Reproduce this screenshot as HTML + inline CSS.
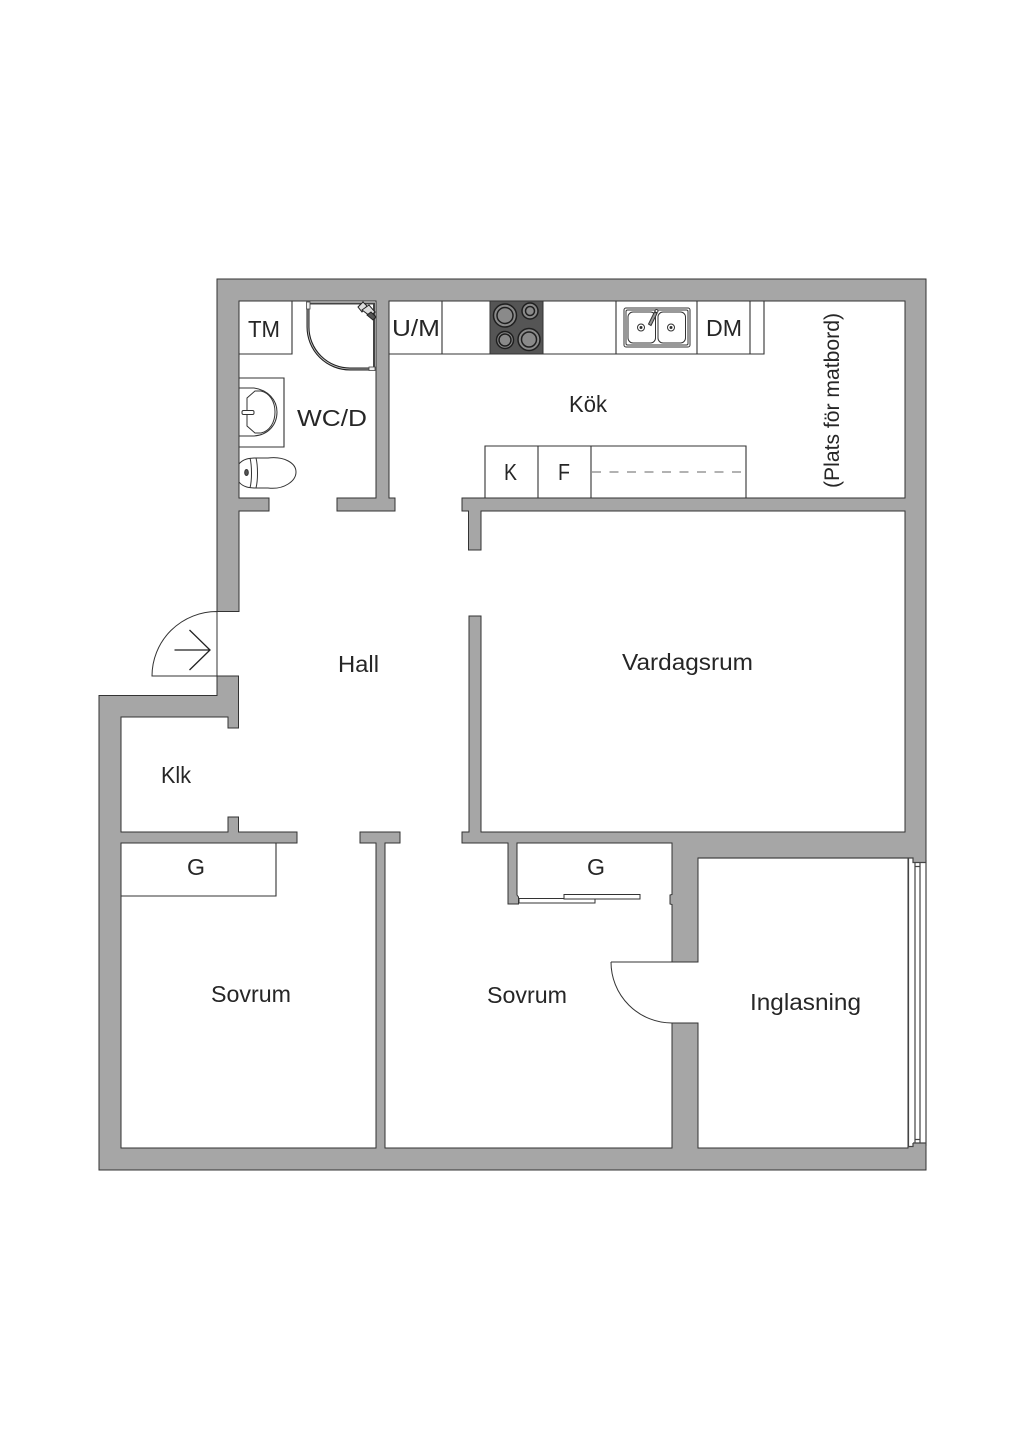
<!DOCTYPE html>
<html><head><meta charset="utf-8"><style>
html,body{margin:0;padding:0;background:#fff}
svg{display:block}
text{font-family:"Liberation Sans",sans-serif;font-size:23px;fill:#262626;stroke:none}
</style></head><body>
<svg width="1024" height="1448" viewBox="0 0 1024 1448" xmlns="http://www.w3.org/2000/svg">
<rect width="1024" height="1448" fill="#fff"/>
<path d="M217 611.500V279H926V1170H99V695.500H217V676H238.500V728H228V717H121V832H228V817H238.500V832H297V843H121V1148H376V843H360V832H400V843H385V1148H672V1023H698V1148H908V858H698V962H672V904.500L670 904V895L672 894.500V843H517V895L518.500 897V904H508V843H462V832H469V616H481V832H905V511H481V550H468.500V511H462V498H905V301H389V498H395V511H337V498H376V301H239V498H269V511H239V611.500Z" fill="#a6a6a6" stroke="#333" stroke-width="1"/>
<!-- window -->
<path d="M908.500 858.500H913V862.500H925.500V1143H913V1146H908.500Z" fill="#fff"/>
<g fill="none" stroke="#444" stroke-width="1.200">
<path d="M698 858H913V862.500H926M908.500 858V1147M915 863V1143M920 863V1143M915 866.500H920M915 1139.500H920M913 1143H926M908 1146.500H913V1143M926 860V1146"/>
</g>
<!-- entry door -->
<g fill="none" stroke="#333" stroke-width="1">
<path d="M217 611.500V676H152A65 64.500 0 0 1 217 611.500Z" fill="#fff"/>
<path d="M611 962H698M611 962A61 61 0 0 0 672 1023" />
</g>
<g fill="none" stroke="#222" stroke-width="1.300"><path d="M174.500 650H210M189.500 630L210 650L189.500 670"/></g>
<!-- sliding door -->
<g fill="#fff" stroke="#333" stroke-width="1">
<rect x="519" y="898.500" width="76" height="4.500"/>
<rect x="564" y="894.500" width="76" height="4.500"/>
</g>
<!-- closet left -->
<path d="M276 843V896H121" fill="none" stroke="#333" stroke-width="1.100"/>
<!-- bath TM -->
<g fill="none" stroke="#333" stroke-width="1.100">
<path d="M239 354H292V301"/>
<path d="M239 378H284V447H239"/>
</g>
<!-- basin -->
<g fill="none" stroke="#333" stroke-width="1">
<path d="M239 388H254C268 390 277 400 277 412C277 425 268 435 254 436H239"/>
<path d="M247 398L255 391H261C270 393 275 402 275 412C275 422 270 431 261 433H255L247 426Z"/>
<rect x="242" y="410.500" width="12" height="4" rx="1.500" fill="#fff"/>
</g>
<!-- toilet -->
<g fill="#fff" stroke="#333" stroke-width="1">
<path d="M254 458H268C284 456 296 463 296 472C296 481 284 490 268 488H254Z"/>
<path d="M239 464C243 459 249 458 256 458C258 466 258 480 256 488C249 488 243 487 239 482Z"/>
<path d="M250 458C252 466 252 480 250 488" fill="none"/>
<ellipse cx="246.500" cy="472.500" rx="1.800" ry="3" fill="#555"/>
</g>
<!-- shower -->
<g fill="none">
<path d="M308 303.500H374V368H372" stroke="#444" stroke-width="2"/>
<path d="M308 306V327A42 42 0 0 0 350 369H371" stroke="#222" stroke-width="3"/>
<path d="M308 306V327A42 42 0 0 0 350 369H371" stroke="#ccc" stroke-width="0.800"/>
<rect x="306.500" y="302" width="3.500" height="7" fill="#eee" stroke="#444" stroke-width="0.800"/>
<rect x="369" y="367" width="6" height="3.500" fill="#eee" stroke="#444" stroke-width="0.800"/>
<g stroke="#222" stroke-width="1" fill="#ddd">
<path d="M358 307L363 302L367 306L362 312Z"/>
<path d="M362 310L369 305L375 312L370 316Z"/>
<path d="M367 315L371 312L376 317L373 320Z" fill="#555"/>
</g>
</g>
<!-- kitchen counter -->
<g fill="none" stroke="#333" stroke-width="1.100">
<path d="M389 354H764V301M442 301V354M616 301V354M697 301V354M750 301V354"/>
<path d="M485 498V446H746V498M538 446V498M591 446V498"/>
<path d="M592 472H742" stroke="#666" stroke-dasharray="9 8.500" stroke-width="1"/>
</g>
<!-- hob -->
<rect x="490" y="301" width="53" height="53" fill="#555" stroke="#333"/>
<g stroke="#1f1f1f" stroke-width="1.500" fill="#8a8a8a">
<circle cx="505" cy="315.500" r="11.500"/><circle cx="505" cy="315.500" r="8"/>
<circle cx="530" cy="311" r="8"/><circle cx="530" cy="311" r="4.500"/>
<circle cx="505" cy="340" r="8.500"/><circle cx="505" cy="340" r="6"/>
<circle cx="529" cy="339.500" r="11"/><circle cx="529" cy="339.500" r="7.500"/>
</g>
<!-- sink -->
<g fill="#fff" stroke="#333" stroke-width="1">
<rect x="624" y="308" width="66" height="39" rx="2"/>
<rect x="626" y="310" width="62" height="35" rx="1.500"/>
<rect x="628" y="312" width="27.500" height="31" rx="5"/>
<rect x="658" y="312" width="27.500" height="31" rx="5"/>
<circle cx="641" cy="327.500" r="3.500"/><circle cx="671" cy="327.500" r="3.500"/>
<circle cx="641" cy="327.500" r="1" fill="#222"/><circle cx="671" cy="327.500" r="1" fill="#222"/>
<path d="M654.500 312L657 313.500L651 325.500L648.500 324Z" fill="#999"/>
<circle cx="656.500" cy="311" r="1.500"/>
</g>
<!-- labels -->
<text x="338" y="672" textLength="41" lengthAdjust="spacingAndGlyphs">Hall</text>
<text x="569" y="412" textLength="38" lengthAdjust="spacingAndGlyphs">Kök</text>
<text x="622" y="670" textLength="131" lengthAdjust="spacingAndGlyphs">Vardagsrum</text>
<text x="161" y="783" textLength="30" lengthAdjust="spacingAndGlyphs">Klk</text>
<text x="187" y="875" textLength="18" lengthAdjust="spacingAndGlyphs">G</text>
<text x="587" y="875" textLength="18" lengthAdjust="spacingAndGlyphs">G</text>
<text x="211" y="1002" textLength="80" lengthAdjust="spacingAndGlyphs">Sovrum</text>
<text x="487" y="1003" textLength="80" lengthAdjust="spacingAndGlyphs">Sovrum</text>
<text x="750" y="1010" textLength="111" lengthAdjust="spacingAndGlyphs">Inglasning</text>
<text x="297" y="426" textLength="70" lengthAdjust="spacingAndGlyphs">WC/D</text>
<text x="248" y="337" textLength="32" lengthAdjust="spacingAndGlyphs">TM</text>
<text x="392" y="336" textLength="48" lengthAdjust="spacingAndGlyphs">U/M</text>
<text x="706" y="336" textLength="36" lengthAdjust="spacingAndGlyphs">DM</text>
<text x="504" y="480" textLength="13" lengthAdjust="spacingAndGlyphs">K</text>
<text x="558" y="480" textLength="12" lengthAdjust="spacingAndGlyphs">F</text>
<text transform="translate(839 488) rotate(-90)" textLength="175" lengthAdjust="spacingAndGlyphs" style="font-size:21px">(Plats för matbord)</text>
</svg>
</body></html>
